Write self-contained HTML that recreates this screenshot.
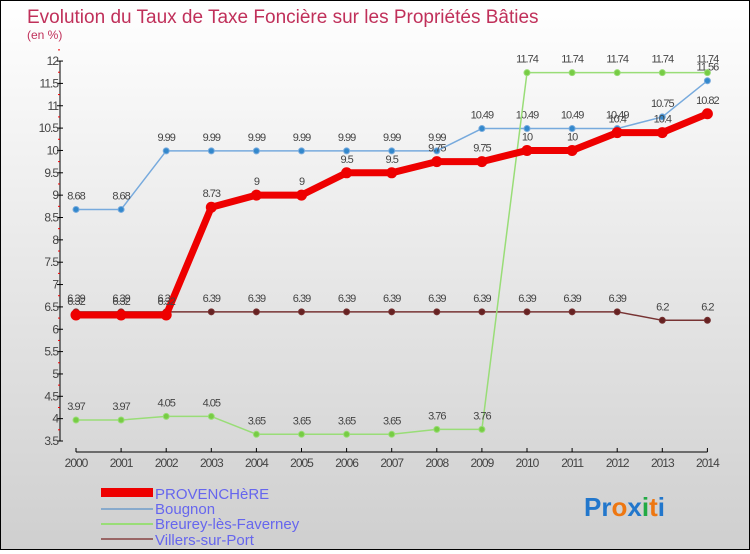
<!DOCTYPE html>
<html><head><meta charset="utf-8"><style>
body{margin:0;width:750px;height:550px;overflow:hidden;font-family:"Liberation Sans",sans-serif}
#wrap{position:absolute;left:0;top:0;width:748px;height:548px;border:1px solid #000;background:linear-gradient(#ffffff,#cfcfcf)}
</style></head><body>
<div id="wrap">
<svg id="chart" width="748" height="548" xmlns="http://www.w3.org/2000/svg">
<text x="26" y="22" font-size="19" fill="#c0305a">Evolution du Taux de Taxe Foncière sur les Propriétés Bâties</text>
<text x="26" y="38" font-size="12" fill="#c0305a">(en %)</text>
<g id="axes"></g><g id="series"></g>
<g>
<rect x="100" y="487" width="52" height="9" fill="#e00"/>
<text x="154" y="498" font-size="15" fill="#6666ee">PROVENCHèRE</text>
<rect x="100" y="507" width="52" height="2" fill="#88aacc"/>
<text x="154" y="513" font-size="15" fill="#6666ee">Bougnon</text>
<rect x="100" y="522" width="52" height="2" fill="#99dd77"/>
<text x="154" y="528" font-size="15" fill="#6666ee">Breurey-lès-Faverney</text>
<rect x="100" y="537" width="52" height="2" fill="#996666"/>
<text x="154" y="544" font-size="15" fill="#6666ee">Villers-sur-Port</text>
</g>
<text x="583" y="515" font-size="26" font-weight="bold"><tspan fill="#2277cc">Pr</tspan><tspan fill="#ee7711">o</tspan><tspan fill="#2277cc">x</tspan><tspan fill="#22aa44">i</tspan><tspan fill="#ee7711">t</tspan><tspan fill="#2277cc">i</tspan></text>
</svg></div>
<script>
const years=[2000,2001,2002,2003,2004,2005,2006,2007,2008,2009,2010,2011,2012,2013,2014];
const yTicks=[3.5,4,4.5,5,5.5,6,6.5,7,7.5,8,8.5,9,9.5,10,10.5,11,11.5,12];
const provenchere=[6.32,6.32,6.32,8.73,9,9,9.5,9.5,9.75,9.75,10,10,10.4,10.4,10.82];
const bougnon=[8.68,8.68,9.99,9.99,9.99,9.99,9.99,9.99,9.99,10.49,10.49,10.49,10.49,10.75,11.56];
const breurey=[3.97,3.97,4.05,4.05,3.65,3.65,3.65,3.65,3.76,3.76,11.74,11.74,11.74,11.74,11.74];
const villers=[6.39,6.39,6.39,6.39,6.39,6.39,6.39,6.39,6.39,6.39,6.39,6.39,6.39,6.2,6.2];
const NS="http://www.w3.org/2000/svg";
const X=i=>75+i*45.1;
const Y=v=>440-(v-3.5)*44.7;
function mk(tag,attrs,parent,text){const e=document.createElementNS(NS,tag);for(const k in attrs)e.setAttribute(k,attrs[k]);if(text!==undefined)e.textContent=text;parent.appendChild(e);return e;}
const ax=document.getElementById('axes');
let yl=mk('line',{x1:59,y1:Y(12),x2:59,y2:Y(3.5),stroke:'#000'},ax);


let xl=mk('line',{x1:75,y1:451,x2:X(14),y2:451,stroke:'#000'},ax);


yTicks.forEach(v=>{
 mk('line',{x1:56,y1:Y(v),x2:62,y2:Y(v),stroke:'#000'},ax);
 mk('line',{x1:57,y1:Y(v+0.25),x2:59,y2:Y(v+0.25),stroke:'#e00'},ax);
 const t=mk('text',{x:57,y:Y(v)+4,'font-size':12,fill:'#444','text-anchor':'end','letter-spacing':'-1'},ax,String(v));
 
 
});
years.forEach((y,i)=>{
 mk('line',{x1:X(i),y1:447,x2:X(i),y2:451,stroke:'#000'},ax);
 const t=mk('text',{x:X(i),y:466,'font-size':12,fill:'#444','text-anchor':'middle','letter-spacing':'-1'},ax,String(y));
 
 
});
const sg=document.getElementById('series');
function series(data,color,w,r,fill,name){
 const g=mk('g',{},sg);
 
 
 const ln=mk('polyline',{points:data.map((v,i)=>X(i)+','+Y(v)).join(' '),fill:'none',stroke:color,'stroke-width':w,'stroke-linejoin':'round'},g);
 
 
 data.forEach((v,i)=>{
  const c=mk('circle',{cx:X(i),cy:Y(v),r:r,fill:fill,stroke:color,'stroke-width':1},g);
  
  
  const t=mk('text',{x:X(i),y:Y(v)-10,'font-size':11,fill:'#444','text-anchor':'middle','letter-spacing':'-1'},g,String(v));
  
  
 });
}
series(villers,'#773333',1.5,3,'#662222','villers');
series(bougnon,'#77aadd',1.5,3,'#3388cc','bougnon');
series(breurey,'#99dd77',1.5,3,'#77cc44','breurey');
series(provenchere,'#ee0000',7,5,'#ee0000','provenchere');
</script>
</body></html>
